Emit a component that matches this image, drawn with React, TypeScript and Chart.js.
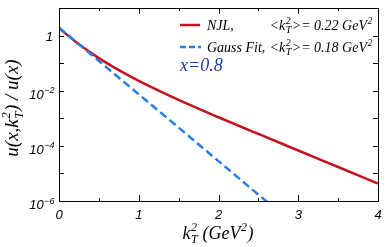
import React, { useEffect, useRef } from 'react';
import { Chart, registerables } from 'chart.js';

Chart.register(...registerables);

// NJL curve: k_T^2 (GeV^2) vs u(x,k_T^2)/u(x)
const kT2Njl = [0, 0.25, 0.5, 0.75, 1.0, 1.5, 2.0, 2.5, 3.0, 3.5, 4.0];
const uNjl = [1.86, 0.481, 0.152, 0.0556, 0.0228, 4.65e-3, 1.09e-3, 2.7e-4, 6.8e-5, 1.71e-5, 4.3e-6];

// Gaussian fit curve
const kT2Gauss = [0, 0.5, 1.0, 1.5, 2.0, 2.5, 2.7];
const uGauss = [1.95, 0.12, 7.4e-3, 4.6e-4, 2.8e-5, 1.7e-6, 5.7e-7];

// axes
const xTickLabels = ['0', '1', '2', '3', '4'];
const yLabelExps = [0, -2, -4, -6];
const yDecades = [1, 0, -1, -2, -3, -4, -5, -6];

const legendNjl = 'NJL,';
const legendGauss = 'Gauss Fit,';
const njlMean = '0.22';
const gaussMean = '0.18';
const xValueText = 'x=0.8';

const RED = '#c4121f';
const BLUE = '#2b7de6';
const NAVY = '#1f3d99';
const SERIF = '"Liberation Serif", "DejaVu Serif", serif';
const SANS = '"Liberation Sans", Arial, sans-serif';

type Seg = string | { sup?: string; sub?: string };

function drawRich(
  ctx: CanvasRenderingContext2D,
  segs: Seg[],
  x: number,
  y: number,
  size: number,
  family: string,
  align: 'left' | 'center' | 'right',
  color: string,
  italic = true
) {
  const st = italic ? 'italic ' : '';
  const base = `${st}${size}px ${family}`;
  const smallSize = Math.round(size * 0.68);
  const small = `${st}${smallSize}px ${family}`;
  const widths = segs.map((s) => {
    if (typeof s === 'string') {
      ctx.font = base;
      return ctx.measureText(s).width;
    }
    ctx.font = small;
    return (
      Math.max(s.sup ? ctx.measureText(s.sup).width : 0, s.sub ? ctx.measureText(s.sub).width : 0) + 1
    );
  });
  const total = widths.reduce((a, b) => a + b, 0);
  let cx = align === 'left' ? x : align === 'center' ? x - total / 2 : x - total;
  ctx.textAlign = 'left';
  ctx.textBaseline = 'alphabetic';
  ctx.fillStyle = color;
  segs.forEach((s, i) => {
    if (typeof s === 'string') {
      ctx.font = base;
      ctx.fillText(s, cx, y);
    } else {
      ctx.font = small;
      if (s.sup) ctx.fillText(s.sup, cx + 0.5, y - size * 0.42);
      if (s.sub) ctx.fillText(s.sub, cx + 0.5, y + size * 0.24);
    }
    cx += widths[i];
  });
}

const decorPlugin = {
  id: 'decor',
  afterDraw(chart: any) {
    const ctx: CanvasRenderingContext2D = chart.ctx;
    const { left, right, top, bottom } = chart.chartArea;
    const xs = chart.scales.x;
    const ys = chart.scales.y;
    ctx.save();
    // frame
    ctx.strokeStyle = '#000';
    ctx.lineWidth = 1;
    ctx.strokeRect(Math.round(left) + 0.5, Math.round(top) + 0.5, Math.round(right - left), Math.round(bottom - top));
    // x ticks (bottom and top, inward)
    ctx.beginPath();
    for (let v = 0; v <= 4.0001; v += 0.5) {
      const px = Math.round(xs.getPixelForValue(v)) + 0.5;
      const len = Math.abs(v - Math.round(v)) < 1e-6 ? 6 : 3;
      ctx.moveTo(px, bottom);
      ctx.lineTo(px, bottom - len);
      ctx.moveTo(px, top);
      ctx.lineTo(px, top + len);
    }
    // y ticks (left and right, inward)
    yDecades.forEach((e) => {
      const py = Math.round(ys.getPixelForValue(Math.pow(10, e))) + 0.5;
      const len = 5;
      ctx.moveTo(left, py);
      ctx.lineTo(left + len, py);
      ctx.moveTo(right, py);
      ctx.lineTo(right - len, py);
    });
    ctx.stroke();

    // y tick labels
    yLabelExps.forEach((e) => {
      const py = ys.getPixelForValue(Math.pow(10, e));
      if (e === 0) {
        drawRich(ctx, ['1'], 53, py + 5, 13, SANS, 'right', '#000');
      } else {
        drawRich(ctx, ['10', { sup: '\u2212' + String(-e) }], 55, py + 8, 13, SANS, 'right', '#000');
      }
    });

    // axis titles
    drawRich(ctx, ['k', { sup: '2', sub: 'T' }, ' (GeV', { sup: '2' }, ')'], 218, 239, 18, SERIF, 'center', '#000');
    ctx.save();
    ctx.translate(18, 108);
    ctx.rotate(-Math.PI / 2);
    drawRich(ctx, ['u(x,k', { sup: '2', sub: 'T' }, ') / u(x)'], 0, 0, 19, SERIF, 'center', '#000');
    ctx.restore();

    // legend
    ctx.lineWidth = 2.5;
    ctx.strokeStyle = RED;
    ctx.setLineDash([]);
    ctx.beginPath();
    ctx.moveTo(180, 25);
    ctx.lineTo(200, 25);
    ctx.stroke();
    ctx.strokeStyle = BLUE;
    ctx.setLineDash([6, 3]);
    ctx.beginPath();
    ctx.moveTo(180, 47);
    ctx.lineTo(201, 47);
    ctx.stroke();
    ctx.setLineDash([]);
    drawRich(ctx, [legendNjl], 207, 30, 14, SERIF, 'left', '#000');
    drawRich(ctx, ['<k', { sup: '2', sub: 'T' }, '>= ' + njlMean + ' GeV', { sup: '2' }], 373, 30, 14, SERIF, 'right', '#000');
    drawRich(ctx, [legendGauss], 207, 52, 14, SERIF, 'left', '#000');
    drawRich(ctx, ['<k', { sup: '2', sub: 'T' }, '>= ' + gaussMean + ' GeV', { sup: '2' }], 373, 52, 14, SERIF, 'right', '#000');
    drawRich(ctx, [xValueText], 180, 71, 18, SERIF, 'left', NAVY);
    ctx.restore();
  },
};

export default function App() {
  const ref = useRef<HTMLCanvasElement | null>(null);
  useEffect(() => {
    if (!ref.current) return;
    const chart = new Chart(ref.current, {
      type: 'line',
      data: {
        datasets: [
          {
            label: 'NJL',
            data: kT2Njl.map((k, i) => ({ x: k, y: uNjl[i] })),
            borderColor: RED,
            borderWidth: 2.5,
            pointRadius: 0,
            cubicInterpolationMode: 'monotone',
            fill: false,
            order: 1,
          },
          {
            label: 'Gauss Fit',
            data: kT2Gauss.map((k, i) => ({ x: k, y: uGauss[i] })),
            borderColor: BLUE,
            borderWidth: 2.5,
            borderDash: [8, 4],
            pointRadius: 0,
            tension: 0,
            fill: false,
            order: 0,
          },
        ],
      },
      options: {
        responsive: false,
        animation: false,
        devicePixelRatio: 1,
        layout: { padding: { left: 0, top: 8, right: 12, bottom: 0 } },
        plugins: { legend: { display: false }, tooltip: { enabled: false } },
        scales: {
          x: {
            type: 'linear',
            min: 0,
            max: 4,
            grid: { display: false, drawTicks: false },
            border: { display: false },
            ticks: {
              stepSize: 1,
              padding: 7,
              color: '#000',
              font: { family: SANS, size: 13, style: 'italic' },
              callback: (v: any) => xTickLabels[Math.round(Number(v))] ?? '',
              maxRotation: 0,
            },
            afterFit: (s: any) => {
              s.height = 46;
            },
          },
          y: {
            type: 'logarithmic',
            min: 1e-6,
            max: 10,
            grid: { display: false, drawTicks: false },
            border: { display: false },
            ticks: { display: false },
            afterFit: (s: any) => {
              s.width = 59;
            },
          },
        },
      } as any,
      plugins: [decorPlugin],
    });
    return () => chart.destroy();
  }, []);
  return (
    <div style={{ position: 'absolute', left: 0, top: 0, width: 390, height: 247, background: '#fff' }}>
      <canvas ref={ref} width={390} height={247} style={{ display: 'block' }} />
    </div>
  );
}
